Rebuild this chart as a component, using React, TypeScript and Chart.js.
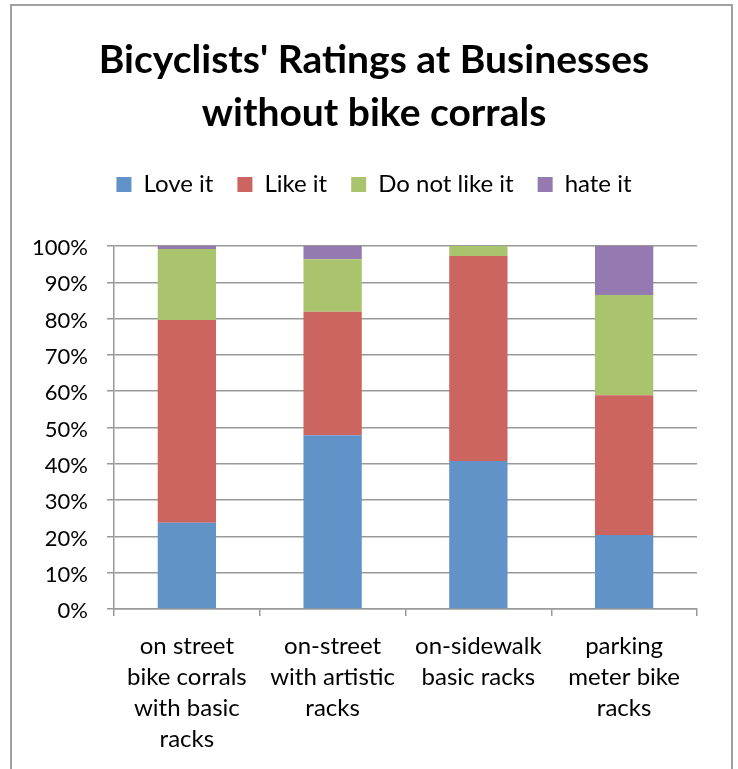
import React, { useEffect, useRef } from "react";
import { Chart, registerables, layouts } from "chart.js";

Chart.register(...registerables);

const categories: string[][] = [
  ["on street", "bike corrals", "with basic", "racks"],
  ["on-street", "with artistic", "racks"],
  ["on-sidewalk", "basic racks"],
  ["parking", "meter bike", "racks"],
];
const loveIt = [23.8, 47.9, 40.8, 20.4];
const likeIt = [55.8, 34.0, 56.5, 38.5];
const doNotLikeIt = [19.6, 14.5, 2.7, 27.6];
const hateIt = [0.8, 3.6, 0, 13.5];
const seriesNames = ["Love it", "Like it", "Do not like it", "hate it"];
const seriesColors = ["#6193c8", "#cc645f", "#aac36d", "#957ab1"];
const titleLines = ["Bicyclists' Ratings at Businesses", "without bike corrals"];

const FONT = "Lato, 'Open Sans', sans-serif";

const framePlugin = {
  id: "frame",
  beforeDraw(chart: any) {
    const ctx = chart.ctx;
    ctx.save();
    ctx.fillStyle = "#ffffff";
    ctx.fillRect(0, 0, chart.width, chart.height);
    ctx.strokeStyle = "#a0a0a0";
    ctx.lineWidth = 2;
    ctx.strokeRect(11, 5, 721, 800);
    ctx.restore();
  },
};

function makeSpacer(position: string, size: number, weight: number) {
  const horizontal = position === "top" || position === "bottom";
  const box: any = {
    position,
    weight,
    fullSize: false,
    options: {},
    top: 0,
    left: 0,
    right: 0,
    bottom: 0,
    width: 0,
    height: 0,
    isHorizontal() {
      return horizontal;
    },
    update(maxWidth: number, maxHeight: number) {
      if (horizontal) {
        this.width = maxWidth;
        this.height = size;
      } else {
        this.width = size;
        this.height = maxHeight;
      }
    },
    draw() {},
  };
  return box;
}

const spacerPlugin = {
  id: "spacers",
  beforeInit(chart: any) {
    layouts.addBox(chart, makeSpacer("top", 39.5, 500));
    layouts.addBox(chart, makeSpacer("right", 41, 500));
  },
};

export default function App() {
  const ref = useRef<HTMLCanvasElement | null>(null);
  useEffect(() => {
    if (!ref.current) return;
    const values = [loveIt, likeIt, doNotLikeIt, hateIt];
    const chart = new Chart(ref.current, {
      type: "bar",
      data: {
        labels: categories as any,
        datasets: seriesNames.map((name, i) => ({
          label: name,
          data: values[i],
          backgroundColor: seriesColors[i],
          borderWidth: 0,
          barPercentage: 0.4,
          categoryPercentage: 1.0,
        })),
      },
      options: {
        responsive: false,
        animation: false,
        layout: { padding: { left: 10, right: 0, top: 0, bottom: 0 } },
        plugins: {
          title: {
            display: true,
            text: titleLines,
            color: "#000000",
            font: { family: FONT, size: 39, weight: "bold", lineHeight: 1.36 },
            padding: { top: 33.5, bottom: 9 },
          },
          legend: {
            display: true,
            position: "top",
            labels: {
              boxWidth: 15,
              boxHeight: 15,
              padding: 24,
              color: "#000000",
              font: { family: FONT, size: 24 },
            },
          },
          tooltip: { enabled: false },
        },
        scales: {
          x: {
            stacked: true,
            afterFit: (scale: any) => {
              scale.height = 160;
            },
            grid: {
              display: true,
              drawOnChartArea: false,
              drawTicks: true,
              tickLength: 7,
              color: "#999999",
              lineWidth: 1.5,
              offset: true,
            },
            border: { display: true, color: "#999999", width: 1.5 },
            ticks: {
              color: "#000000",
              padding: 15,
              maxRotation: 0,
              autoSkip: false,
              font: { family: FONT, size: 24, lineHeight: 1.29 },
            },
          },
          y: {
            stacked: true,
            min: 0,
            max: 100,
            afterFit: (scale: any) => {
              scale.width = 104;
            },
            grid: {
              display: true,
              drawTicks: true,
              tickLength: 7,
              color: "#999999",
              lineWidth: 1.5,
            },
            border: { display: true, color: "#999999", width: 1.5 },
            ticks: {
              stepSize: 10,
              color: "#000000",
              padding: 19,
              labelOffset: 2,
              font: { family: FONT, size: 22 },
              callback: (v: any) => v + "%",
            },
          },
        },
      },
      plugins: [framePlugin, spacerPlugin],
    });
    return () => chart.destroy();
  }, []);
  return (
    <div style={{ position: "absolute", left: 0, top: 0, width: 738, height: 769 }}>
      <canvas ref={ref} width={738} height={769} style={{ display: "block" }} />
    </div>
  );
}
